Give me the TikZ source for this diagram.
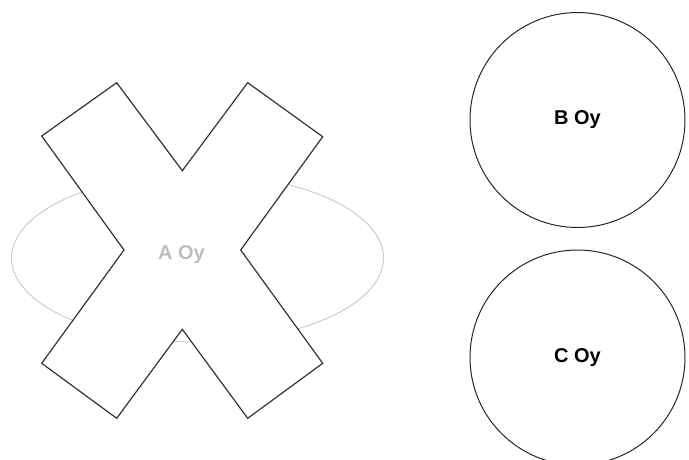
\documentclass[tikz,border=0pt]{standalone}
\usepackage{fontspec}
\setmainfont{Liberation Sans}
\usetikzlibrary{shapes.geometric}

\tikzset{
  etiquette/.style={font=\fontsize{20}{24}\selectfont\bfseries},
  rond/.style={circle, draw=black!85, line width=1pt, minimum size=215pt, inner sep=0pt}
}

\begin{document}
\begin{tikzpicture}[x=1pt, y=-1pt]
    \useasboundingbox (0,0) rectangle (689,459);

    % Ellipse
    \node[ellipse, draw=black!20, line width=1pt, minimum width=372pt, minimum height=168pt] (a) at (197.5,258) {};

    % Croix
    \draw[fill=white, draw=black!80, line width=1.2pt, line join=miter]
        (41.7,136) -- (116.7,82.7) -- (182.3,170.7) -- (247.7,82.7) -- (322.7,136.7)
        -- (240.7,250) -- (322.7,363.3) -- (247.7,418.3) -- (182.3,329.3)
        -- (116.7,418.3) -- (41.7,363.3) -- (124,250) -- cycle;

    % Etiquette
    \node[etiquette, text=black!25] (alabel) at (181.5,255) {A Oy};

    % Cercles
    \node[rond, etiquette] (b) at (577.5,120) {B Oy};
    \node[rond, etiquette] (c) at (577.5,357.5) {C Oy};

\end{tikzpicture}
\end{document}
